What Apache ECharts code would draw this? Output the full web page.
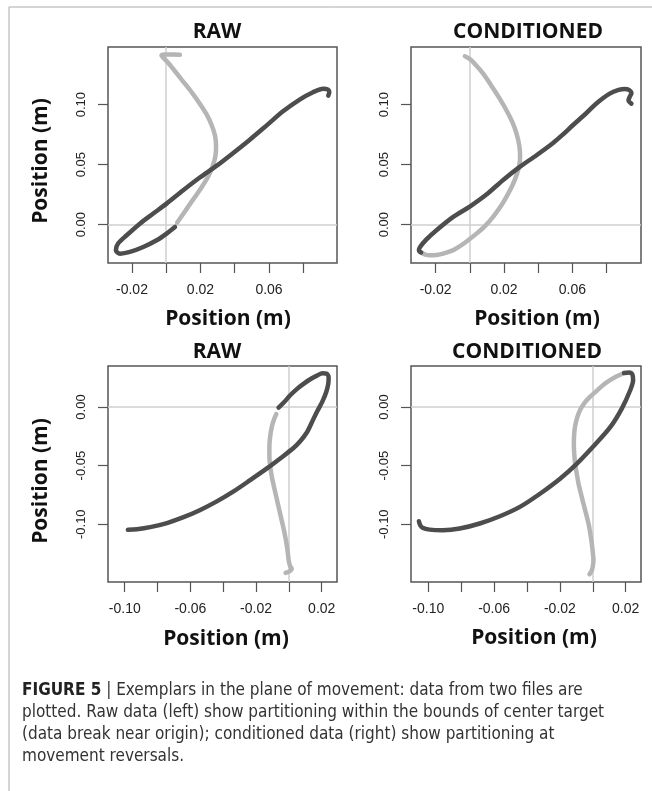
<!DOCTYPE html>
<html>
<head>
<meta charset="utf-8">
<script src="https://cdn.jsdelivr.net/npm/echarts@6/dist/echarts.min.js"></script>
<style>
html,body{margin:0;padding:0;background:#fff;}
#c{width:652px;height:791px;}
</style>
</head>
<body>
<div id="c"></div>
<script>
// ---------- DATA ----------
const panelTitles = ['RAW', 'CONDITIONED', 'RAW', 'CONDITIONED'];
const axisTitle = 'Position (m)';

const topXTicks = [-0.02, 0, 0.02, 0.04, 0.06, 0.08];
const topXLabels = [-0.02, 0.02, 0.06];
const topYTicks = [0, 0.05, 0.10];
const botXTicks = [-0.10, -0.08, -0.06, -0.04, -0.02, 0, 0.02];
const botXLabels = [-0.10, -0.06, -0.02, 0.02];
const botYTicks = [-0.10, -0.05, 0];

// Top-left: RAW
const rawTopDark = [[0.0051,-0.0020],[0.0002,-0.0075],[-0.0056,-0.0131],[-0.0134,-0.0187],[-0.0212,-0.0228],[-0.0270,-0.0242],[-0.0294,-0.0214],[-0.0282,-0.0160],[-0.0231,-0.0089],[-0.0154,0.0008],[-0.0076,0.0092],[0.0002,0.0175],[0.0099,0.0286],[0.0196,0.0392],[0.0293,0.0489],[0.0391,0.0597],[0.0488,0.0708],[0.0585,0.0825],[0.0682,0.0944],[0.0779,0.1042],[0.0857,0.1103],[0.0917,0.1133],[0.0945,0.1125],[0.0952,0.1105],[0.0946,0.1075]];
const rawTopLight = [[0.0064,0.0017],[0.0100,0.0090],[0.0140,0.0175],[0.0180,0.0255],[0.0215,0.0330],[0.0248,0.0410],[0.0272,0.0490],[0.0287,0.0570],[0.0291,0.0650],[0.0285,0.0740],[0.0265,0.0830],[0.0235,0.0920],[0.0195,0.1010],[0.0150,0.1100],[0.0100,0.1190],[0.0050,0.1280],[0.0010,0.1350],[-0.0020,0.1395],[-0.0028,0.1410],[-0.0010,0.1418],[0.0040,0.1418],[0.0080,0.1415]];

// Top-right: CONDITIONED
const condTopDark = [[0.0945,0.1008],[0.0928,0.1036],[0.0935,0.1065],[0.0945,0.1095],[0.0930,0.1122],[0.0906,0.1130],[0.0870,0.1122],[0.0818,0.1092],[0.0740,0.1010],[0.0682,0.0930],[0.0604,0.0830],[0.0540,0.0745],[0.0487,0.0680],[0.0390,0.0578],[0.0292,0.0481],[0.0195,0.0372],[0.0097,0.0250],[0.0000,0.0150],[-0.0097,0.0064],[-0.0195,-0.0047],[-0.0255,-0.0125],[-0.0290,-0.0185],[-0.0298,-0.0215],[-0.0285,-0.0232]];
const condTopLight = [[-0.0285,-0.0232],[-0.0260,-0.0250],[-0.0234,-0.0256],[-0.0195,-0.0253],[-0.0156,-0.0242],[-0.0100,-0.0215],[-0.0058,-0.0180],[-0.0010,-0.0130],[0.0039,-0.0075],[0.0090,-0.0010],[0.0136,0.0064],[0.0180,0.0150],[0.0214,0.0231],[0.0250,0.0330],[0.0275,0.0420],[0.0290,0.0500],[0.0294,0.0570],[0.0290,0.0650],[0.0275,0.0750],[0.0250,0.0850],[0.0214,0.0953],[0.0170,0.1060],[0.0125,0.1160],[0.0078,0.1258],[0.0035,0.1330],[0.0000,0.1380],[-0.0029,0.1403]];

// Bottom-left: RAW
const rawBotDark = [[-0.0063,-0.0006],[-0.0030,0.0040],[0.0008,0.0100],[0.0050,0.0155],[0.0089,0.0197],[0.0130,0.0237],[0.0171,0.0268],[0.0205,0.0288],[0.0228,0.0285],[0.0242,0.0255],[0.0240,0.0200],[0.0228,0.0130],[0.0205,0.0050],[0.0171,-0.0040],[0.0140,-0.0130],[0.0110,-0.0215],[0.0070,-0.0290],[0.0028,-0.0350],[-0.0053,-0.0439],[-0.0134,-0.0524],[-0.0236,-0.0624],[-0.0337,-0.0720],[-0.0439,-0.0805],[-0.0540,-0.0878],[-0.0642,-0.0940],[-0.0743,-0.0990],[-0.0845,-0.1025],[-0.0926,-0.1043],[-0.0981,-0.1048]];
const rawBotLight = [[-0.0077,-0.0060],[-0.0092,-0.0110],[-0.0104,-0.0168],[-0.0113,-0.0240],[-0.0118,-0.0311],[-0.0119,-0.0380],[-0.0118,-0.0453],[-0.0112,-0.0525],[-0.0104,-0.0595],[-0.0091,-0.0680],[-0.0077,-0.0766],[-0.0063,-0.0850],[-0.0049,-0.0937],[-0.0035,-0.1020],[-0.0022,-0.1108],[-0.0013,-0.1180],[-0.0006,-0.1251],[0.0000,-0.1320],[0.0010,-0.1365],[0.0018,-0.1380],[0.0005,-0.1400],[-0.0020,-0.1415]];

// Bottom-right: CONDITIONED
const condBotDark = [[-0.1057,-0.0975],[-0.1050,-0.1005],[-0.1035,-0.1030],[-0.0992,-0.1046],[-0.0911,-0.1051],[-0.0809,-0.1037],[-0.0687,-0.0994],[-0.0565,-0.0932],[-0.0443,-0.0852],[-0.0321,-0.0740],[-0.0199,-0.0612],[-0.0098,-0.0485],[0.0004,-0.0335],[0.0106,-0.0172],[0.0177,-0.0011],[0.0228,0.0145],[0.0245,0.0230],[0.0240,0.0280],[0.0220,0.0295],[0.0190,0.0290]];
const condBotLight = [[0.0190,0.0290],[0.0146,0.0262],[0.0100,0.0225],[0.0065,0.0190],[0.0025,0.0140],[-0.0016,0.0088],[-0.0050,0.0035],[-0.0077,-0.0026],[-0.0095,-0.0090],[-0.0108,-0.0168],[-0.0114,-0.0250],[-0.0115,-0.0339],[-0.0112,-0.0410],[-0.0108,-0.0481],[-0.0098,-0.0565],[-0.0087,-0.0652],[-0.0072,-0.0740],[-0.0057,-0.0823],[-0.0041,-0.0910],[-0.0026,-0.0994],[-0.0015,-0.1080],[-0.0006,-0.1165],[0.0000,-0.1240],[0.0004,-0.1308],[0.0000,-0.1360],[-0.0006,-0.1393],[-0.0020,-0.1427]];

const captionLines = [
  '{b|FIGURE 5} | Exemplars in the plane of movement: data from two files are',
  'plotted. Raw data (left) show partitioning within the bounds of center target',
  '(data break near origin); conditioned data (right) show partitioning at',
  'movement reversals.'
];

// ---------- CHART ----------
const DARK = '#4d4d4d', LIGHT = '#b5b5b5', REF = '#cfcfcf', BOX = '#555555';
const TICKFONT = "'Liberation Sans', Arial, sans-serif";
const BOLDFONT = "'Open Sans', sans-serif";
const CAPFONT = "'Liberation Sans Narrow', 'DejaVu Sans Condensed', sans-serif";

const grids = [
  {left:108, top:47, width:229, height:216},
  {left:411, top:47, width:230, height:216},
  {left:108, top:366, width:229, height:216},
  {left:411, top:366, width:230, height:216}
].map(g => Object.assign({show:true, borderColor:BOX, borderWidth:1.5, backgroundColor:'transparent', containLabel:false}, g));

const xRanges = [[-0.0340,0.0997],[-0.0344,0.1001],[-0.1102,0.0293],[-0.1105,0.0293]];
const yRanges = [[-0.032,0.148],[-0.032,0.148],[-0.1493,0.0350],[-0.1493,0.0350]];
const xTickSets = [topXTicks, topXTicks, botXTicks, botXTicks];
const xLabelSets = [topXLabels, topXLabels, botXLabels, botXLabels];
const yTickSets = [topYTicks, topYTicks, botYTicks, botYTicks];
const darkSets = [rawTopDark, condTopDark, rawBotDark, condBotDark];
const lightSets = [rawTopLight, condTopLight, rawBotLight, condBotLight];

const fmt = v => v.toFixed(2);

const xAxes = grids.map((g, i) => ({
  type:'value', gridIndex:i, position:'bottom', min:xRanges[i][0], max:xRanges[i][1],
  axisLine:{show:false, onZero:false}, splitLine:{show:false},
  axisTick:{show:true, inside:false, length:10, lineStyle:{color:BOX, width:1.2}, customValues:xTickSets[i]},
  axisLabel:{customValues:xLabelSets[i], formatter:fmt, margin:20, fontSize:14, color:'#222', fontFamily:TICKFONT}
}));
const yAxes = grids.map((g, i) => ({
  type:'value', gridIndex:i, position:'left', min:yRanges[i][0], max:yRanges[i][1],
  axisLine:{show:false, onZero:false}, splitLine:{show:false},
  axisTick:{show:true, inside:false, length:10, lineStyle:{color:BOX, width:1.2}, customValues:yTickSets[i]},
  axisLabel:{customValues:yTickSets[i], formatter:fmt, rotate:90, margin:20, fontSize:13, color:'#222', fontFamily:TICKFONT}
}));

const series = [];
grids.forEach((g, i) => {
  series.push({
    type:'line', xAxisIndex:i, yAxisIndex:i, data:lightSets[i], showSymbol:false, symbol:'none',
    smooth:0.3, z:2, silent:true,
    lineStyle:{color:LIGHT, width:4.5, cap:'round', join:'round'},
    markLine:{silent:true, symbol:'none', z:1, label:{show:false},
      lineStyle:{color:REF, width:1.5, type:'solid'},
      data:[{xAxis:0}, {yAxis:0}]}
  });
  series.push({
    type:'line', xAxisIndex:i, yAxisIndex:i, data:darkSets[i], showSymbol:false, symbol:'none',
    smooth:0.3, z:3, silent:true,
    lineStyle:{color:DARK, width:4.5, cap:'round', join:'round'}
  });
});

const titlePos = [[217,32],[528,32],[217,352],[527,352]];
const xTitlePos = [[228,319],[537,319],[226,639],[534,638]];
const yTitlePos = [[41,161],[41,481]];

const graphic = [
  {type:'line', shape:{x1:9, y1:7, x2:652, y2:7}, style:{stroke:'#aaaaaa', lineWidth:1}},
  {type:'line', shape:{x1:9, y1:7, x2:9, y2:791}, style:{stroke:'#aaaaaa', lineWidth:1}}
];
titlePos.forEach((p, i) => graphic.push({type:'text', x:p[0], y:p[1],
  style:{text:panelTitles[i], fontFamily:BOLDFONT, fontWeight:'bold', fontSize:21, fill:'#111', align:'center', verticalAlign:'middle'}}));
xTitlePos.forEach(p => graphic.push({type:'text', x:p[0], y:p[1],
  style:{text:axisTitle, fontFamily:BOLDFONT, fontWeight:'bold', fontSize:21, fill:'#111', align:'center', verticalAlign:'middle'}}));
yTitlePos.forEach(p => graphic.push({type:'text', x:p[0], y:p[1], rotation:Math.PI/2,
  style:{text:axisTitle, fontFamily:BOLDFONT, fontWeight:'bold', fontSize:21, fill:'#111', align:'center', verticalAlign:'middle'}}));
graphic.push({type:'text', x:22, y:679,
  style:{text:captionLines.join('\n'), fontFamily:CAPFONT,
    fontSize:17, lineHeight:22.3, fill:'#333', align:'left', verticalAlign:'top',
    rich:{b:{fontWeight:'bold', fontFamily:CAPFONT, fontSize:17, lineHeight:22.3, fill:'#222'}}}});

const chart = echarts.init(document.getElementById('c'), null, {renderer:'canvas', width:652, height:791});
chart.setOption({
  animation:false,
  backgroundColor:'#ffffff',
  grid:grids, xAxis:xAxes, yAxis:yAxes, series:series, graphic:graphic
});
</script>
</body>
</html>
